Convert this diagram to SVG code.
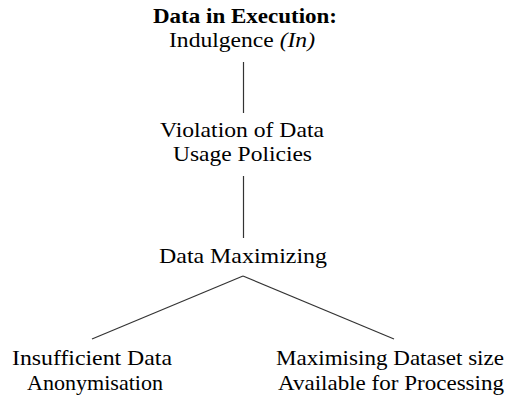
<svg xmlns="http://www.w3.org/2000/svg" width="516" height="398" viewBox="0 0 516 398">
<style>
text{font-family:"Liberation Serif","Times New Roman",serif;font-size:22px;fill:#000;text-anchor:middle}
.b{font-weight:bold}
.i{font-style:italic}
.c line{stroke:#333;stroke-width:1.2;fill:none}
</style>
<rect width="516" height="398" fill="#fff"/>
<g class="c" id="connectors">
<line x1="243.5" y1="62" x2="243.5" y2="113"/>
<line x1="243.5" y1="176" x2="243.5" y2="238"/>
<line x1="243" y1="276" x2="92" y2="339"/>
<line x1="243" y1="276" x2="394" y2="339"/>
</g>
<g id="root">
<text class="b" x="245" y="23" textLength="184" lengthAdjust="spacingAndGlyphs">Data in Execution:</text>
<text x="242" y="47" textLength="146" lengthAdjust="spacingAndGlyphs">Indulgence <tspan class="i">(In)</tspan></text>
</g>
<g id="violation">
<text x="242" y="137" textLength="164" lengthAdjust="spacingAndGlyphs">Violation of Data</text>
<text x="242.5" y="161" textLength="139" lengthAdjust="spacingAndGlyphs">Usage Policies</text>
</g>
<g id="maximizing">
<text x="243" y="263" textLength="168" lengthAdjust="spacingAndGlyphs">Data Maximizing</text>
</g>
<g id="anonymisation">
<text x="92" y="365" textLength="160" lengthAdjust="spacingAndGlyphs">Insufficient Data</text>
<text x="95" y="390" textLength="136" lengthAdjust="spacingAndGlyphs">Anonymisation</text>
</g>
<g id="dataset">
<text x="390" y="365" textLength="228" lengthAdjust="spacingAndGlyphs">Maximising Dataset size</text>
<text x="391" y="390" textLength="226" lengthAdjust="spacingAndGlyphs">Available for Processing</text>
</g>
</svg>
